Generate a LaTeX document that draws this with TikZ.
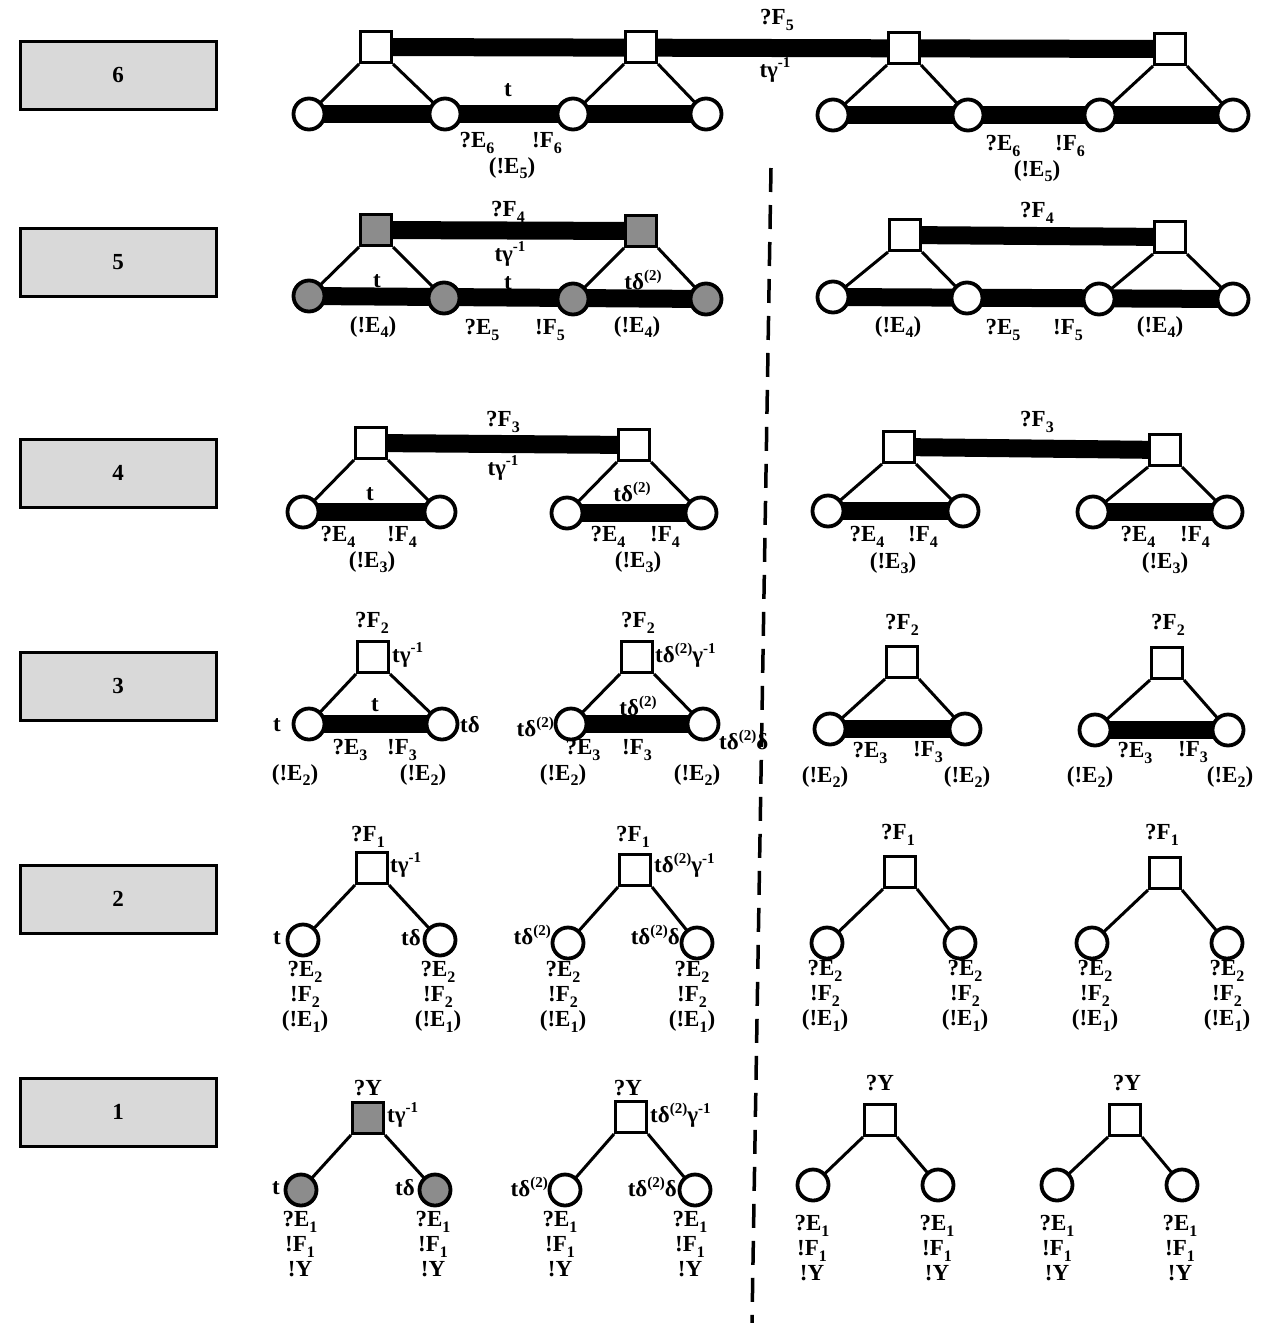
\documentclass[tikz,border=0pt]{standalone}
\usepackage{fontspec}
\setmainfont{Liberation Serif}
\pgfdeclarelayer{bg}\pgfsetlayers{bg,main}
\newcommand\sbs[1]{\raisebox{-0.55ex}{\fontsize{16}{16}\selectfont #1}}
\newcommand\sps[1]{\raisebox{0.9ex}{\fontsize{15}{15}\selectfont #1}}
\begin{document}
\begin{tikzpicture}[x=1pt,y=-1pt,
 sq/.style={rectangle,draw,line width=3pt,minimum size=31pt,inner sep=0pt,fill=white},
 gsq/.style={sq,fill=black!45},
 cir/.style={circle,draw,line width=3.8pt,minimum size=31pt,inner sep=0pt,fill=white},
 gcir/.style={cir,fill=black!45},
 heavy/.style={line width=18pt},
 link/.style={line width=3pt},
 lbl/.style={font=\fontsize{23}{25}\selectfont\bfseries,inner sep=0pt},
 stack/.style={lbl,align=center,anchor=north},
 rowbox/.style={draw,line width=3pt,fill=black!15,minimum width=196pt,minimum height=68pt,font=\fontsize{23}{25}\selectfont\bfseries},
 dashline/.style={line width=3.5pt,dash pattern=on 24pt off 13pt}]
\useasboundingbox (0,0) rectangle (1267,1323);

% row boxes
\node[rowbox] (b6) at (118,75) {6};
\node[rowbox] (b5) at (118,262) {5};
\node[rowbox] (b4) at (118,473) {4};
\node[rowbox] (b3) at (118,686) {3};
\node[rowbox] (b2) at (118,899) {2};
\node[rowbox] (b1) at (118,1112) {1};

% dashed divider
\coordinate (dtop) at (771,168);
\coordinate (dbot) at (752,1323);

% ===== row 6 =====
\node[sq] (s6a) at (376,47) {};
\node[sq] (s6b) at (641,47) {};
\node[sq] (s6c) at (904,48) {};
\node[sq] (s6d) at (1170,49) {};
\node[cir] (c6a) at (309,114) {};
\node[cir] (c6b) at (445,114) {};
\node[cir] (c6c) at (573,114) {};
\node[cir] (c6d) at (706,114) {};
\node[cir] (c6e) at (833,115) {};
\node[cir] (c6f) at (968,115) {};
\node[cir] (c6g) at (1100,115) {};
\node[cir] (c6h) at (1233,115) {};
\node[lbl] (t6a) at (777,20) {?F\sbs{5}};
\node[lbl] (t6b) at (775,70) {tγ\sps{-1}};
\node[lbl] (t6c) at (508,90) {t};
\node[lbl] (t6d) at (477,143) {?E\sbs{6}};
\node[lbl] (t6e) at (547,143) {!F\sbs{6}};
\node[lbl] (t6f) at (512,168) {(!E\sbs{5})};
\node[lbl] (t6g) at (1003,146) {?E\sbs{6}};
\node[lbl] (t6h) at (1070,146) {!F\sbs{6}};
\node[lbl] (t6i) at (1037,171) {(!E\sbs{5})};

% ===== row 5 =====
\node[gsq] (s5a) at (376,230) {};
\node[gsq] (s5b) at (641,231) {};
\node[sq] (s5c) at (905,235) {};
\node[sq] (s5d) at (1170,237) {};
\node[gcir] (c5a) at (309,296) {};
\node[gcir] (c5b) at (444,298) {};
\node[gcir] (c5c) at (573,299) {};
\node[gcir] (c5d) at (706,299) {};
\node[cir] (c5e) at (833,297) {};
\node[cir] (c5f) at (967,298) {};
\node[cir] (c5g) at (1099,299) {};
\node[cir] (c5h) at (1233,299) {};
\node[lbl] (t5a) at (508,212) {?F\sbs{4}};
\node[lbl] (t5b) at (510,254) {tγ\sps{-1}};
\node[lbl] (t5c) at (377,281) {t};
\node[lbl] (t5d) at (508,283) {t};
\node[lbl] (t5e) at (643,280) {tδ\sps{(2)}};
\node[lbl] (t5f) at (373,327) {(!E\sbs{4})};
\node[lbl] (t5g) at (482,330) {?E\sbs{5}};
\node[lbl] (t5h) at (550,330) {!F\sbs{5}};
\node[lbl] (t5i) at (637,327) {(!E\sbs{4})};
\node[lbl] (t5j) at (1037,213) {?F\sbs{4}};
\node[lbl] (t5k) at (898,327) {(!E\sbs{4})};
\node[lbl] (t5l) at (1003,330) {?E\sbs{5}};
\node[lbl] (t5m) at (1068,330) {!F\sbs{5}};
\node[lbl] (t5n) at (1160,327) {(!E\sbs{4})};

% ===== row 4 =====
\node[sq] (s4a) at (371,443) {};
\node[sq] (s4b) at (634,445) {};
\node[sq] (s4c) at (899,447) {};
\node[sq] (s4d) at (1165,450) {};
\node[cir] (c4a) at (303,512) {};
\node[cir] (c4b) at (440,512) {};
\node[cir] (c4c) at (567,513) {};
\node[cir] (c4d) at (701,513) {};
\node[cir] (c4e) at (828,511) {};
\node[cir] (c4f) at (963,511) {};
\node[cir] (c4g) at (1093,512) {};
\node[cir] (c4h) at (1227,512) {};
\node[lbl] (t4a) at (503,422) {?F\sbs{3}};
\node[lbl] (t4b) at (503,468) {tγ\sps{-1}};
\node[lbl] (t4c) at (370,494) {t};
\node[lbl] (t4d) at (632,492) {tδ\sps{(2)}};
\node[lbl] (t4e) at (338,537) {?E\sbs{4}};
\node[lbl] (t4f) at (402,537) {!F\sbs{4}};
\node[lbl] (t4g) at (372,562) {(!E\sbs{3})};
\node[lbl] (t4h) at (608,537) {?E\sbs{4}};
\node[lbl] (t4i) at (665,537) {!F\sbs{4}};
\node[lbl] (t4j) at (638,562) {(!E\sbs{3})};
\node[lbl] (t4k) at (1037,422) {?F\sbs{3}};
\node[lbl] (t4l) at (867,537) {?E\sbs{4}};
\node[lbl] (t4m) at (923,537) {!F\sbs{4}};
\node[lbl] (t4n) at (893,563) {(!E\sbs{3})};
\node[lbl] (t4o) at (1138,537) {?E\sbs{4}};
\node[lbl] (t4p) at (1195,537) {!F\sbs{4}};
\node[lbl] (t4q) at (1165,563) {(!E\sbs{3})};

% ===== row 3 =====
\node[sq] (s3a) at (373,657) {};
\node[sq] (s3b) at (637,657) {};
\node[sq] (s3c) at (902,662) {};
\node[sq] (s3d) at (1167,663) {};
\node[cir] (c3a) at (309,724) {};
\node[cir] (c3b) at (442,724) {};
\node[cir] (c3c) at (571,724) {};
\node[cir] (c3d) at (703,724) {};
\node[cir] (c3e) at (830,729) {};
\node[cir] (c3f) at (965,729) {};
\node[cir] (c3g) at (1095,730) {};
\node[cir] (c3h) at (1228,730) {};
\node[lbl] (t3a) at (372,623) {?F\sbs{2}};
\node[lbl,anchor=west] (t3b) at (392,655) {tγ\sps{-1}};
\node[lbl] (t3c) at (375,705) {t};
\node[lbl,anchor=east] (t3d) at (281,725) {t};
\node[lbl,anchor=west] (t3e) at (460,725) {tδ};
\node[lbl] (t3f) at (350,750) {?E\sbs{3}};
\node[lbl] (t3g) at (402,750) {!F\sbs{3}};
\node[lbl] (t3h) at (295,775) {(!E\sbs{2})};
\node[lbl] (t3i) at (423,775) {(!E\sbs{2})};
\node[lbl] (t3j) at (638,623) {?F\sbs{2}};
\node[lbl,anchor=west] (t3k) at (655,655) {tδ\sps{(2)}γ\sps{-1}};
\node[lbl] (t3l) at (638,706) {tδ\sps{(2)}};
\node[lbl,anchor=east] (t3m) at (554,727) {tδ\sps{(2)}};
\node[lbl,anchor=west] (t3n) at (719,740) {tδ\sps{(2)}δ};
\node[lbl] (t3o) at (583,750) {?E\sbs{3}};
\node[lbl] (t3p) at (637,750) {!F\sbs{3}};
\node[lbl] (t3q) at (563,775) {(!E\sbs{2})};
\node[lbl] (t3r) at (697,775) {(!E\sbs{2})};
\node[lbl] (t3s) at (902,625) {?F\sbs{2}};
\node[lbl] (t3t) at (870,753) {?E\sbs{3}};
\node[lbl] (t3u) at (928,752) {!F\sbs{3}};
\node[lbl] (t3v) at (825,777) {(!E\sbs{2})};
\node[lbl] (t3w) at (967,777) {(!E\sbs{2})};
\node[lbl] (t3x) at (1168,625) {?F\sbs{2}};
\node[lbl] (t3y) at (1135,753) {?E\sbs{3}};
\node[lbl] (t3z) at (1193,752) {!F\sbs{3}};
\node[lbl] (t3aa) at (1090,777) {(!E\sbs{2})};
\node[lbl] (t3ab) at (1230,777) {(!E\sbs{2})};

% ===== row 2 =====
\node[sq] (s2a) at (372,868) {};
\node[sq] (s2b) at (635,870) {};
\node[sq] (s2c) at (900,872) {};
\node[sq] (s2d) at (1165,873) {};
\node[cir] (c2a) at (303,940) {};
\node[cir] (c2b) at (440,940) {};
\node[cir] (c2c) at (568,943) {};
\node[cir] (c2d) at (697,943) {};
\node[cir] (c2e) at (827,943) {};
\node[cir] (c2f) at (960,943) {};
\node[cir] (c2g) at (1092,943) {};
\node[cir] (c2h) at (1227,943) {};
\node[lbl] (t2a) at (368,837) {?F\sbs{1}};
\node[lbl,anchor=west] (t2b) at (390,865) {tγ\sps{-1}};
\node[lbl,anchor=east] (t2c) at (281,938) {t};
\node[lbl,anchor=east] (t2d) at (421,938) {tδ};
\node[stack] (t2e) at (305,961) {?E\sbs{2}\\!F\sbs{2}\\(!E\sbs{1})};
\node[stack] (t2f) at (438,961) {?E\sbs{2}\\!F\sbs{2}\\(!E\sbs{1})};
\node[lbl] (t2g) at (633,837) {?F\sbs{1}};
\node[lbl,anchor=west] (t2h) at (654,865) {tδ\sps{(2)}γ\sps{-1}};
\node[lbl,anchor=east] (t2i) at (551,935) {tδ\sps{(2)}};
\node[lbl,anchor=east] (t2j) at (680,935) {tδ\sps{(2)}δ};
\node[stack] (t2k) at (563,961) {?E\sbs{2}\\!F\sbs{2}\\(!E\sbs{1})};
\node[stack] (t2l) at (692,961) {?E\sbs{2}\\!F\sbs{2}\\(!E\sbs{1})};
\node[lbl] (t2m) at (898,835) {?F\sbs{1}};
\node[stack] (t2n) at (825,960) {?E\sbs{2}\\!F\sbs{2}\\(!E\sbs{1})};
\node[stack] (t2o) at (965,960) {?E\sbs{2}\\!F\sbs{2}\\(!E\sbs{1})};
\node[lbl] (t2p) at (1162,835) {?F\sbs{1}};
\node[stack] (t2q) at (1095,960) {?E\sbs{2}\\!F\sbs{2}\\(!E\sbs{1})};
\node[stack] (t2r) at (1227,960) {?E\sbs{2}\\!F\sbs{2}\\(!E\sbs{1})};

% ===== row 1 =====
\node[gsq] (s1a) at (368,1118) {};
\node[sq] (s1b) at (631,1117) {};
\node[sq] (s1c) at (880,1120) {};
\node[sq] (s1d) at (1125,1120) {};
\node[gcir] (c1a) at (301,1190) {};
\node[gcir] (c1b) at (435,1190) {};
\node[cir] (c1c) at (565,1190) {};
\node[cir] (c1d) at (695,1190) {};
\node[cir] (c1e) at (813,1185) {};
\node[cir] (c1f) at (938,1185) {};
\node[cir] (c1g) at (1057,1185) {};
\node[cir] (c1h) at (1182,1185) {};
\node[lbl] (t1a) at (368,1088) {?Y};
\node[lbl,anchor=west] (t1b) at (387,1115) {tγ\sps{-1}};
\node[lbl,anchor=east] (t1c) at (280,1188) {t};
\node[lbl,anchor=east] (t1d) at (415,1188) {tδ};
\node[stack] (t1e) at (300,1211) {?E\sbs{1}\\!F\sbs{1}\\!Y};
\node[stack] (t1f) at (433,1211) {?E\sbs{1}\\!F\sbs{1}\\!Y};
\node[lbl] (t1g) at (628,1088) {?Y};
\node[lbl,anchor=west] (t1h) at (650,1115) {tδ\sps{(2)}γ\sps{-1}};
\node[lbl,anchor=east] (t1i) at (548,1187) {tδ\sps{(2)}};
\node[lbl,anchor=east] (t1j) at (677,1187) {tδ\sps{(2)}δ};
\node[stack] (t1k) at (560,1211) {?E\sbs{1}\\!F\sbs{1}\\!Y};
\node[stack] (t1l) at (690,1211) {?E\sbs{1}\\!F\sbs{1}\\!Y};
\node[lbl] (t1m) at (880,1083) {?Y};
\node[stack] (t1n) at (812,1215) {?E\sbs{1}\\!F\sbs{1}\\!Y};
\node[stack] (t1o) at (937,1215) {?E\sbs{1}\\!F\sbs{1}\\!Y};
\node[lbl] (t1p) at (1127,1083) {?Y};
\node[stack] (t1q) at (1057,1215) {?E\sbs{1}\\!F\sbs{1}\\!Y};
\node[stack] (t1r) at (1180,1215) {?E\sbs{1}\\!F\sbs{1}\\!Y};

\begin{pgfonlayer}{bg}
\draw[dashline] (dtop) -- (dbot);
% heavy bars
\draw[heavy] (s6a.center) -- (s6d.center);
\draw[heavy] (c6a.center) -- (c6d.center);
\draw[heavy] (c6e.center) -- (c6h.center);
\draw[heavy] (s5a.center) -- (s5b.center);
\draw[heavy] (s5c.center) -- (s5d.center);
\draw[heavy] (c5a.center) -- (c5d.center);
\draw[heavy] (c5e.center) -- (c5h.center);
\draw[heavy] (s4a.center) -- (s4b.center);
\draw[heavy] (s4c.center) -- (s4d.center);
\draw[heavy] (c4a.center) -- (c4b.center);
\draw[heavy] (c4c.center) -- (c4d.center);
\draw[heavy] (c4e.center) -- (c4f.center);
\draw[heavy] (c4g.center) -- (c4h.center);
\draw[heavy] (c3a.center) -- (c3b.center);
\draw[heavy] (c3c.center) -- (c3d.center);
\draw[heavy] (c3e.center) -- (c3f.center);
\draw[heavy] (c3g.center) -- (c3h.center);
% thin links
\foreach \s/\l/\r in {s6a/c6a/c6b, s6b/c6c/c6d, s6c/c6e/c6f, s6d/c6g/c6h,
  s5a/c5a/c5b, s5b/c5c/c5d, s5c/c5e/c5f, s5d/c5g/c5h,
  s4a/c4a/c4b, s4b/c4c/c4d, s4c/c4e/c4f, s4d/c4g/c4h,
  s3a/c3a/c3b, s3b/c3c/c3d, s3c/c3e/c3f, s3d/c3g/c3h,
  s2a/c2a/c2b, s2b/c2c/c2d, s2c/c2e/c2f, s2d/c2g/c2h,
  s1a/c1a/c1b, s1b/c1c/c1d, s1c/c1e/c1f, s1d/c1g/c1h}{
  \draw[link] (\s.south west) -- (\l.center);
  \draw[link] (\s.south east) -- (\r.center);
}
\end{pgfonlayer}
\end{tikzpicture}
\end{document}
